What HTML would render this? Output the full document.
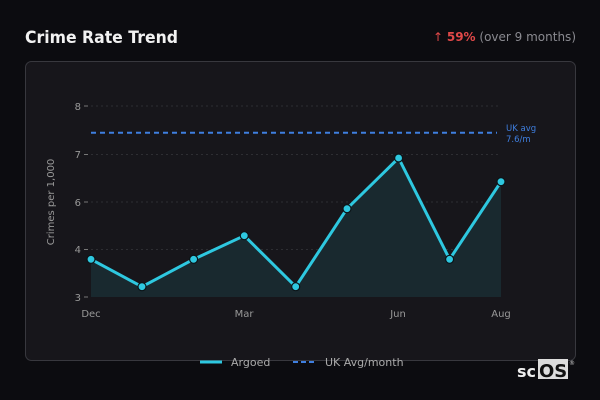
<!DOCTYPE html>
<html><head><meta charset="utf-8"><style>
html,body{margin:0;padding:0;width:600px;height:400px;background:#0c0c10;overflow:hidden;font-family:"DejaVu Sans","Liberation Sans",sans-serif}
</style></head><body>
<svg width="600" height="400" xmlns="http://www.w3.org/2000/svg" style="position:absolute;left:0;top:0">
<text x="25" y="43" font-size="17" font-weight="bold" fill="#f2f2f2" textLength="153" lengthAdjust="spacingAndGlyphs">Crime Rate Trend</text>
<text x="576" y="41" font-size="12" text-anchor="end" fill="#8a8a90"><tspan fill="#e04848">↑ </tspan><tspan fill="#e04848" font-weight="bold">59%</tspan> (over 9 months)</text>
<rect x="25.5" y="61.5" width="550" height="299" rx="6" fill="#17161b" stroke="#38383e"/>
<g stroke="#2e2e33" stroke-dasharray="2,3" stroke-width="1">
<line x1="91" y1="106" x2="501" y2="106"/><line x1="91" y1="154.5" x2="501" y2="154.5"/><line x1="91" y1="202" x2="501" y2="202"/><line x1="91" y1="249.5" x2="501" y2="249.5"/>
</g>
<g stroke="#777" stroke-width="1"><line x1="84" y1="106" x2="88" y2="106"/><line x1="84" y1="154.5" x2="88" y2="154.5"/><line x1="84" y1="202" x2="88" y2="202"/><line x1="84" y1="249.5" x2="88" y2="249.5"/><line x1="84" y1="297" x2="88" y2="297"/></g>
<g font-size="10" fill="#999" text-anchor="end"><text x="81" y="110">8</text><text x="81" y="158">7</text><text x="81" y="206">6</text><text x="81" y="253">4</text><text x="81" y="301">3</text></g>
<text transform="translate(54,202) rotate(-90)" font-size="10" fill="#999" text-anchor="middle">Crimes per 1,000</text>
<g font-size="10" fill="#999" text-anchor="middle"><text x="91" y="317">Dec</text><text x="244" y="317">Mar</text><text x="398" y="317">Jun</text><text x="501" y="317">Aug</text></g>
<polygon points="91,297 91,259.3 142,286.7 193.6,259.3 244.3,235.7 295.7,286.7 347,208.7 398.6,158 449.6,259.3 501,181.7 501,297" fill="#19292f"/>
<line x1="91" y1="132.7" x2="497" y2="132.7" stroke="#3f7fe0" stroke-width="2" stroke-dasharray="5,4"/>
<text x="506" y="131" font-size="8.5" fill="#3f7fe0">UK avg</text><text x="506" y="142" font-size="8.5" fill="#3f7fe0">7.6/m</text>
<polyline points="91,259.3 142,286.7 193.6,259.3 244.3,235.7 295.7,286.7 347,208.7 398.6,158 449.6,259.3 501,181.7" fill="none" stroke="#2ec8e0" stroke-width="3" stroke-linejoin="round"/>
<g fill="#2ec8e0" stroke="#0c1418" stroke-width="1.2">
<circle cx="91" cy="259.3" r="4"/><circle cx="142" cy="286.7" r="4"/><circle cx="193.6" cy="259.3" r="4"/><circle cx="244.3" cy="235.7" r="4"/><circle cx="295.7" cy="286.7" r="4"/><circle cx="347" cy="208.7" r="4"/><circle cx="398.6" cy="158" r="4"/><circle cx="449.6" cy="259.3" r="4"/><circle cx="501" cy="181.7" r="4"/>
</g>
<line x1="200" y1="362" x2="222" y2="362" stroke="#2ec8e0" stroke-width="3"/>
<text x="231" y="366" font-size="11" fill="#aaa">Argoed</text>
<line x1="293" y1="362" x2="317" y2="362" stroke="#3f7fe0" stroke-width="2" stroke-dasharray="5,3"/>
<text x="325" y="366" font-size="11" fill="#aaa">UK Avg/month</text>
<text x="517" y="377" font-size="16" font-weight="bold" fill="#eee">sc</text>
<rect x="538" y="359" width="30" height="20" fill="#ddd"/>
<text x="539" y="377" font-size="18" font-weight="bold" fill="#111">OS</text>
<text x="569" y="365" font-size="6" fill="#ccc">®</text>
</svg>
</body></html>
